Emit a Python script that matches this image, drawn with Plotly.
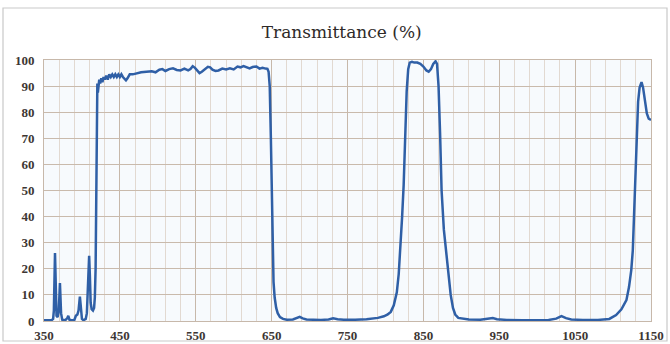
import plotly.graph_objects as go

wavelength = [350, 355, 360, 362, 363, 364.5, 365.5, 366.5, 368, 369.5, 371, 372.5, 374, 378,
              380.5, 382, 383.5, 386, 390, 392, 394, 395.5, 397.3, 398.5, 400, 402, 405, 406.5,
              407.5, 408.5, 409.5, 410.5, 411.5, 412.8, 414.5, 416, 417, 418, 418.8, 419.3,
              419.7, 420.3, 421, 421.8, 422.8, 424, 425.5, 427, 428.5, 430, 432, 434, 436, 438,
              440, 442, 444, 446, 448, 450, 452, 454, 456, 458, 460, 463, 467, 472, 478, 485,
              492, 497, 502, 506, 510, 515, 520, 525, 530, 535, 540, 543, 546, 549, 552, 555,
              558, 562, 566, 569, 572, 576, 580, 585, 590, 595, 600, 605, 609, 613, 617, 621,
              625, 630, 634, 638, 642, 644.5, 646, 647.5, 649, 650, 651, 652.5, 654, 656, 658,
              661, 665, 670, 678, 683, 687, 691, 696, 705, 715, 725, 731, 737, 745, 760, 775,
              790, 798, 803, 807, 811, 815, 817.5, 819.5, 822, 824, 826, 828, 830, 832, 835,
              838, 842, 846, 850, 854, 857, 860, 863, 866, 868, 870, 872, 874, 877, 880, 883,
              886, 889, 892, 896, 900, 910, 925, 935, 941.5, 947, 960, 980, 1000, 1015, 1025,
              1032, 1038, 1045, 1060, 1080, 1095, 1104, 1111, 1117.6, 1121, 1124, 1126, 1128.7,
              1131, 1133, 1135, 1137.5, 1139.5, 1142, 1144.5, 1147, 1150]
transmittance = [0.3, 0.3, 0.3, 0.8, 4, 26, 8, 2, 1.5, 4, 14.5, 3, 0.5, 0.3,
                 1, 2, 0.5, 0.3, 0.4, 2, 2.5, 4, 9.3, 4, 0.8, 0.3, 0.8, 3,
                 10, 22, 25, 17, 7, 4.5, 4, 5, 9, 20, 50, 80,
                 89, 91, 87.5, 91, 92.5, 91, 93, 91.5, 93.5, 92.5, 94, 92.5, 94.5, 93.5,
                 94.5, 93.5, 94.5, 93.5, 94.5, 93.5, 94.5, 93.5, 93, 92.2, 93, 94.5, 94.5, 95, 95.3, 95.5,
                 95.7, 95.3, 96.3, 96.5, 95.8, 96.5, 96.8, 96.2, 96, 96.7, 96, 96.5, 97.6, 97, 96, 95,
                 95.5, 96.5, 97.4, 97.2, 96.3, 95.8, 96, 96.7, 96.4, 96.8, 96.4, 97.5, 97.2, 97.7, 97.2, 96.8,
                 97.3, 97.5, 96.7, 97, 96.7, 96.6, 95.5, 90, 70, 50, 28, 15, 9, 5, 3,
                 1.5, 0.8, 0.5, 0.6, 1.2, 1.6, 1, 0.6, 0.5, 0.4, 0.6, 1, 0.7, 0.5, 0.5, 0.7,
                 1.2, 1.8, 2.5, 3.5, 6, 11, 18, 27, 40, 52, 70, 88, 96.5, 99, 99.3,
                 99, 99, 98.5, 97.5, 96, 95.5, 96.5, 98.5, 99.5, 98.5, 90, 72, 50, 35, 27, 18,
                 10, 5, 2.5, 1.2, 1, 0.6, 0.5, 0.7, 1.1, 0.7, 0.4, 0.3, 0.3, 0.4, 0.9,
                 1.9, 1.1, 0.6, 0.4, 0.4, 0.8, 2.3, 4.5, 8, 13, 19.5, 27, 50,
                 73, 84, 89.5, 91.5, 89.5, 84, 79.5, 77.5, 77]

x_ticks = [350, 450, 550, 650, 750, 850, 950, 1050, 1150]
y_ticks = [0, 10, 20, 30, 40, 50, 60, 70, 80, 90, 100]
title_text = "Transmittance (%)"

fig = go.Figure()
fig.add_trace(go.Scatter(x=wavelength, y=transmittance, mode="lines",
                         line=dict(color="#2f5fa6", width=2.5), hoverinfo="skip"))

tick_font = dict(family="Liberation Serif", size=13, color="#3d3633", weight="bold")

fig.update_layout(
    width=670, height=344,
    margin=dict(l=44, r=19, t=60, b=23, autoexpand=False),
    paper_bgcolor="white",
    plot_bgcolor="#f7fafd",
    showlegend=False,
    title=dict(text=title_text, x=0.51, xanchor="center", y=1 - 32 / 344, yanchor="middle",
               font=dict(family="DejaVu Serif", size=17, color="#2e2a28")),
    xaxis=dict(range=[350, 1150], tickvals=x_ticks, ticktext=[str(v) for v in x_ticks],
               showgrid=True, gridcolor="#c7b8aa", gridwidth=1.2, automargin=False,
               minor=dict(dtick=20, tick0=350, showgrid=True, gridcolor="#e2d9d1", gridwidth=1),
               zeroline=False, showline=True, linecolor="#c7b8aa", linewidth=1, mirror=True,
               ticks="", tickfont=tick_font, ticklabelstandoff=2),
    yaxis=dict(range=[0, 100], tickvals=y_ticks, ticktext=[str(v) for v in y_ticks],
               showgrid=True, gridcolor="#c9baac", gridwidth=1.3, automargin=False,
               zeroline=False, showline=True, linecolor="#c7b8aa", linewidth=1, mirror=True,
               ticks="", tickfont=tick_font, ticklabelstandoff=6),
    shapes=[dict(type="rect", xref="paper", yref="paper",
                 x0=(3 - 44) / 607, x1=(667 - 44) / 607,
                 y0=(321 - 341) / 261, y1=(321 - 8) / 261,
                 line=dict(color="#c9c9c9", width=1.2), fillcolor="rgba(0,0,0,0)", layer="below")],
)

fig.write_html("out.html", config={"displayModeBar": False},
               post_script="document.body.style.margin='0';document.body.style.overflow='hidden';")
